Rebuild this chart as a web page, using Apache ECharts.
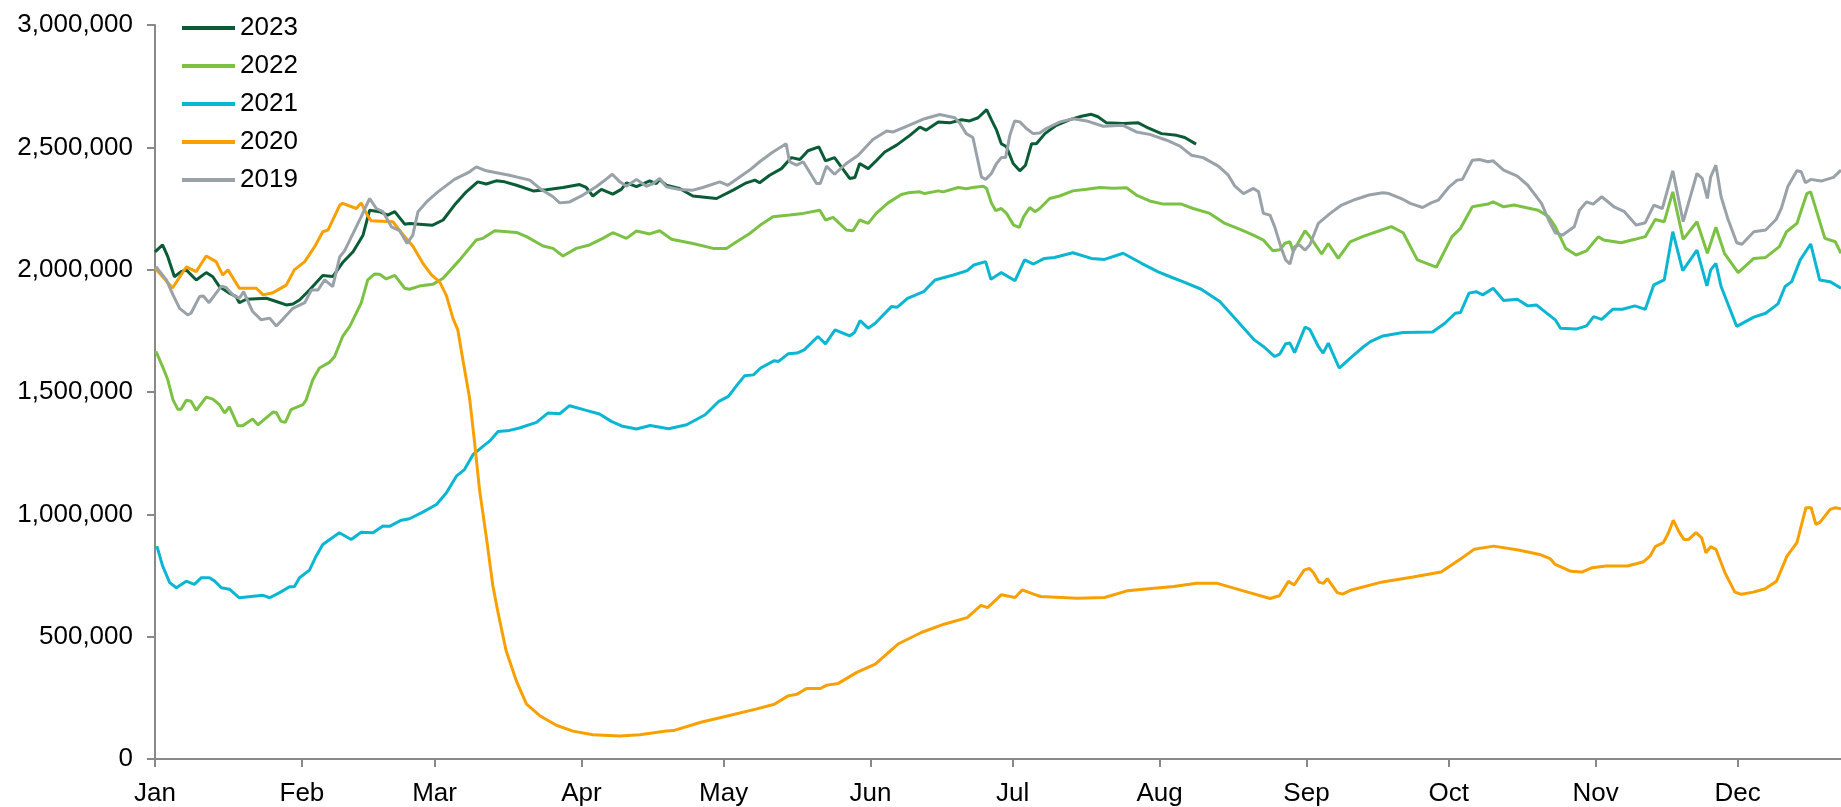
<!DOCTYPE html>
<html>
<head>
<meta charset="utf-8">
<title>Daily series 2019-2023</title>
<script src="https://cdn.jsdelivr.net/npm/echarts@6.0.0/dist/echarts.min.js"></script>
<style>
  html, body { margin: 0; padding: 0; background: #fff; }
  #chart { width: 1841px; height: 807px; }
</style>
</head>
<body>
<div id="chart"></div>
<script>
// x = day of year (0 = 1 Jan), y = value in thousands
const monthLabels = ['Jan', 'Feb', 'Mar', 'Apr', 'May', 'Jun', 'Jul', 'Aug', 'Sep', 'Oct', 'Nov', 'Dec']
const monthStarts = [0, 31, 59, 90, 120, 151, 181, 212, 243, 273, 304, 334]
const yTicks = [0, 500000, 1000000, 1500000, 2000000, 2500000, 3000000]

const s2023 = [[0,2073],[1.6,2101],[2.7,2053],[4.1,1971],[5.5,1992],[6.6,1999],[8.7,1958],[10.8,1988],[12.2,1971],[13.6,1931],[15.7,1904],[17.1,1890],[17.8,1865],[19.3,1879],[23.5,1883],[25.6,1870],[27.7,1856],[29.1,1860],[30.5,1876],[32.6,1917],[35.4,1976],[37.5,1972],[39.6,2029],[41.8,2073],[43.9,2141],[45.3,2243],[47.4,2237],[49.1,2223],[50.6,2237],[52.7,2186],[53.7,2189],[58.6,2182],[60.8,2203],[63.2,2264],[65.7,2318],[68.1,2359],[69.9,2350],[72,2363],[73.8,2359],[76.3,2345],[79.8,2322],[82.6,2327],[86.1,2336],[89.6,2348],[91,2336],[92.4,2301],[94.2,2328],[96.6,2309],[98.4,2328],[99.5,2355],[101.6,2339],[104.4,2363],[105.8,2352],[106.5,2368],[107.9,2345],[110.7,2332],[113.5,2301],[118.5,2291],[122,2325],[124.8,2355],[126.6,2366],[127.6,2355],[129.7,2386],[132.2,2413],[134.3,2458],[136.1,2450],[137.8,2486],[140.1,2502],[141.5,2445],[143.4,2458],[146.6,2373],[147.7,2377],[148.7,2434],[150.5,2413],[152.2,2445],[154,2481],[156.5,2509],[159.3,2549],[161.4,2583],[162.7,2570],[165.3,2604],[167.7,2600],[170.2,2613],[171.9,2608],[173.7,2621],[175.5,2654],[176.5,2613],[177.6,2570],[178.6,2515],[179.7,2502],[181.1,2434],[182.5,2404],[183.7,2427],[185,2515],[186,2515],[187.8,2556],[190.2,2590],[193.1,2613],[195.5,2627],[197.6,2635],[199,2625],[200.8,2600],[204.3,2597],[207.5,2600],[209.2,2583],[212.4,2556],[215.6,2549],[217.3,2540],[219.7,2513]]

const s2022 = [[0.2,1666],[1.6,1604],[2.7,1550],[3.8,1468],[4.8,1430],[5.5,1430],[6.6,1466],[7.6,1462],[8.7,1425],[10.8,1479],[12.2,1471],[13.6,1448],[14.7,1414],[15.7,1439],[17.5,1362],[18.5,1362],[20.6,1390],[21.7,1366],[24.9,1418],[25.6,1416],[26.6,1380],[27.5,1376],[28.7,1428],[31.2,1448],[31.9,1468],[33.3,1550],[34.7,1598],[36.8,1621],[37.9,1645],[39.6,1727],[41.1,1768],[43.5,1863],[44.9,1958],[46.3,1982],[47.4,1981],[48.8,1962],[50.6,1977],[52.7,1924],[53.7,1920],[55.8,1933],[58.6,1940],[60.8,1965],[64.3,2040],[67.8,2121],[69.2,2128],[71.7,2159],[76.3,2152],[78.4,2135],[81.9,2097],[84,2087],[86.1,2056],[88.9,2087],[91.7,2101],[94.5,2128],[96.6,2151],[99.5,2128],[101.6,2158],[104.4,2146],[106.5,2159],[109,2124],[113.5,2107],[117.8,2087],[120.6,2087],[122,2105],[125.5,2148],[128,2186],[130.4,2216],[133.9,2223],[136.8,2230],[140.3,2243],[141.5,2203],[143.1,2214],[145.9,2162],[147.3,2159],[148.7,2203],[150.5,2189],[152.2,2230],[154.7,2273],[157.5,2307],[158.9,2314],[161.4,2318],[162.4,2311],[165.3,2322],[166.3,2318],[169.5,2336],[171.2,2331],[172.6,2336],[174.8,2341],[175.5,2332],[176.5,2273],[177.4,2241],[178.6,2250],[179.7,2230],[181.2,2182],[182.4,2173],[183.3,2216],[184.6,2254],[185.7,2237],[186.7,2250],[188.8,2291],[190.9,2301],[193.7,2322],[196.6,2329],[199.4,2336],[202.2,2333],[205,2335],[207.1,2305],[209.9,2281],[212.8,2268],[216.6,2268],[219.1,2250],[222.6,2230],[225.8,2189],[229,2165],[231.8,2141],[233.9,2121],[235.9,2077],[237.4,2081],[238.4,2107],[239.5,2114],[240.2,2074],[242.7,2159],[243.7,2135],[246.2,2064],[247.6,2107],[249.7,2046],[252.2,2114],[255.1,2137],[258.4,2159],[260.9,2176],[263.4,2151],[266.4,2040],[270.4,2010],[273.7,2135],[275.5,2169],[278,2257],[281.3,2268],[282.4,2277],[284.6,2257],[286.8,2264],[291.9,2243],[294.1,2216],[295.5,2176],[297.7,2087],[299.9,2060],[302.1,2077],[304.6,2135],[305.7,2121],[309.4,2110],[312.3,2124],[314.5,2135],[316.6,2205],[318.5,2196],[320.3,2318],[322.5,2124],[325.4,2196],[327.6,2067],[329.4,2173],[331.2,2067],[334.1,1988],[337.4,2046],[339.9,2050],[342.8,2094],[344.3,2155],[346.5,2189],[348.6,2311],[349.4,2318],[352.4,2128],[354.6,2114],[355.8,2067]]

const s2021 = [[0.4,870],[1.6,789],[3.1,721],[4.5,700],[6.6,727],[8.3,714],[9.8,741],[11.5,741],[12.6,727],[14,700],[15.7,694],[17.8,659],[22.8,669],[24.2,659],[26.3,680],[28.4,704],[29.4,704],[30.5,741],[32.6,772],[34,829],[35.4,877],[38.9,925],[41.4,897],[43.5,927],[46,925],[48.1,952],[49.5,951],[52,976],[53.7,982],[56.5,1009],[59.4,1040],[61.5,1088],[63.6,1156],[65.3,1183],[67.1,1244],[69.2,1278],[70.6,1299],[72.4,1339],[74.8,1343],[76.9,1353],[80.5,1376],[82.9,1414],[85.4,1411],[87.5,1444],[91,1425],[93.8,1410],[96.3,1380],[98.7,1360],[101.6,1349],[104.5,1363],[108.4,1350],[112.2,1366],[116.1,1407],[119,1462],[121,1482],[122.9,1530],[124.4,1566],[126.3,1570],[127.8,1598],[130.7,1628],[131.6,1625],[133.6,1656],[135.5,1659],[137,1672],[139.9,1727],[141.5,1697],[143.5,1754],[146.6,1729],[147.6,1743],[148.8,1792],[150.5,1761],[152,1781],[155.4,1849],[156.6,1846],[158.8,1883],[162.2,1910],[164.6,1958],[168.5,1978],[171.4,1996],[172.8,2019],[175.3,2033],[176.4,1961],[178.6,1988],[181.5,1955],[183.5,2040],[185.4,2023],[187.7,2046],[189.8,2050],[193.7,2069],[197.6,2046],[200.4,2042],[204.3,2067],[208.2,2026],[211.6,1992],[214.5,1969],[216.9,1951],[220.8,1920],[224.7,1870],[227.6,1808],[232,1713],[233.9,1686],[236.3,1645],[237.4,1656],[238.6,1697],[239.5,1700],[240.5,1661],[242.7,1765],[243.7,1756],[245.5,1686],[246.5,1659],[247.6,1700],[249.9,1598],[252.6,1645],[255.1,1686],[256.5,1706],[259.1,1729],[263.4,1743],[269.6,1745],[272.2,1781],[274.4,1822],[275.5,1825],[277.3,1904],[278.8,1910],[280.2,1897],[282.4,1924],[284.6,1874],[287.5,1879],[289.7,1852],[291.5,1856],[295.5,1795],[296.6,1761],[299.9,1757],[302.1,1770],[303.6,1808],[305.3,1797],[307.6,1838],[309.7,1838],[312.3,1852],[314.5,1838],[316.3,1938],[318.5,1958],[320.3,2155],[322.4,1996],[325.4,2080],[327.5,1934],[328.3,1999],[329.4,2026],[330.5,1931],[333.8,1768],[337.4,1806],[339.9,1822],[342.5,1860],[344,1931],[345.4,1951],[347.2,2040],[349.4,2105],[351.3,1958],[353.5,1951],[355.8,1924]]

const s2020 = [[0,2007],[3.7,1925],[6.6,2011],[8.7,1992],[10.8,2056],[12.9,2033],[14.3,1978],[15.4,1999],[17.8,1924],[21.4,1924],[22.8,1897],[24.9,1906],[27.7,1937],[29.4,1999],[31.6,2033],[33.7,2094],[35.4,2155],[36.5,2162],[39,2264],[39.6,2271],[42.5,2250],[43.5,2273],[44.6,2230],[45.6,2200],[50.2,2196],[52.3,2144],[54.4,2097],[56.5,2027],[58.3,1980],[60.1,1949],[61.5,1894],[62.9,1800],[63.9,1754],[65,1629],[66.4,1473],[67.4,1301],[68.5,1098],[69.9,910],[71.3,708],[72.4,598],[74.1,442],[76.3,317],[78.4,224],[81.2,177],[84.7,138],[88.2,114],[92.4,99],[98.1,94],[102.3,99],[107.9,114],[109.4,116],[115.2,150],[121,177],[126.8,204],[130.7,224],[133.6,258],[135.5,265],[137.5,288],[140.4,288],[141.8,302],[144.2,309],[148.1,354],[152,388],[156.8,470],[161.7,517],[166.5,551],[171.4,578],[174.3,628],[175.7,619],[178.6,671],[181.5,660],[183,691],[185.4,674],[186.9,664],[194.6,657],[200.4,660],[205.3,688],[210.2,697],[215,705],[219.8,718],[224.2,718],[229.5,688],[235.3,656],[237.3,667],[239.2,726],[240.4,711],[242.5,772],[243.6,779],[244.5,761],[245.6,723],[246.6,718],[247.4,737],[249.5,680],[250.6,674],[252.5,691],[258.4,721],[265.5,744],[271.4,764],[275.9,823],[278.4,857],[282.5,870],[287.7,854],[292.2,836],[294.4,819],[295.5,795],[298.8,767],[301.1,764],[303.3,782],[306.2,789],[310.7,789],[314,805],[315.5,829],[316.6,868],[318.3,884],[319.4,925],[320.4,976],[321.7,925],[322.7,897],[323.6,897],[325.2,925],[326.4,904],[327.3,843],[328.3,868],[329.4,857],[331.3,762],[333.4,682],[334.8,673],[337.3,682],[339.8,696],[342.2,727],[344.4,829],[346.5,884],[348.4,1027],[349.5,1027],[350.5,959],[351.4,968],[353.5,1020],[354.6,1027],[355.8,1023]]

const s2019 = [[0.2,2012],[2.4,1958],[3.8,1897],[5.2,1842],[6.9,1815],[7.6,1822],[9.4,1890],[10.2,1892],[11.4,1865],[14,1933],[15,1927],[16.4,1897],[17.8,1883],[18.7,1910],[20.6,1829],[22.4,1795],[24.2,1802],[25.6,1770],[27,1798],[29.1,1842],[31.6,1865],[33,1917],[34.4,1917],[35.8,1958],[37.5,1931],[39,2053],[40,2077],[41.8,2148],[43.5,2216],[45.3,2291],[46.7,2250],[48.1,2237],[49.9,2175],[51.6,2160],[53.2,2107],[54.4,2141],[55.5,2237],[57.3,2277],[59.7,2318],[63.2,2369],[66.4,2400],[67.8,2420],[69.9,2404],[74.8,2386],[79.1,2366],[81.2,2332],[84,2298],[85.4,2273],[87.5,2277],[90.3,2305],[93.1,2339],[94.5,2359],[96.5,2390],[98.1,2359],[99.5,2341],[101.6,2369],[103.7,2341],[105.1,2352],[106.5,2373],[107.9,2339],[110.7,2328],[113.5,2325],[115.6,2336],[119.2,2359],[120.9,2345],[125.5,2407],[127.6,2441],[130.4,2481],[133.2,2515],[133.9,2441],[135.4,2427],[136.8,2441],[139.6,2352],[140.4,2352],[141.7,2423],[143.4,2390],[145.9,2434],[148.4,2468],[151.5,2532],[154.4,2567],[155.8,2563],[158.6,2586],[162.4,2617],[165.6,2634],[168.8,2621],[169.9,2597],[171.2,2556],[172.6,2540],[174.4,2379],[175.3,2369],[176.5,2393],[177.6,2434],[178.6,2458],[179.5,2458],[180.4,2549],[181.4,2608],[182.5,2604],[183.9,2577],[185.3,2556],[186.7,2559],[188.1,2577],[191,2604],[193.8,2617],[196.6,2608],[200.1,2586],[204.3,2590],[207.1,2563],[209.9,2553],[213.5,2529],[216.3,2505],[218.7,2468],[221.2,2458],[224.4,2423],[226.5,2386],[227.9,2341],[229.7,2311],[231.8,2332],[232.9,2318],[233.9,2230],[235.3,2223],[236.3,2175],[237.7,2087],[238.6,2040],[239.5,2023],[240.5,2094],[241.5,2101],[242.7,2080],[243.7,2101],[245.5,2189],[248,2230],[250.4,2264],[253.3,2287],[256.2,2305],[259.1,2314],[260.4,2311],[263.4,2287],[264.9,2271],[267.5,2254],[269.3,2273],[270.8,2284],[273,2336],[274.8,2366],[275.9,2369],[278,2447],[279.5,2450],[281.3,2441],[282.4,2445],[284.6,2407],[287.5,2382],[289.7,2345],[292.6,2271],[294.1,2203],[295.5,2151],[297,2141],[299.5,2175],[300.6,2243],[302.1,2277],[303.5,2268],[305.3,2298],[307.9,2257],[310.1,2237],[312.6,2182],[314.5,2192],[316.3,2264],[318.1,2250],[320.3,2404],[322.5,2196],[325.4,2393],[326.5,2373],[327.6,2291],[328.3,2379],[329.4,2427],[330.5,2298],[331.9,2209],[333.8,2110],[334.9,2104],[337.4,2155],[339.9,2162],[342.1,2205],[343.2,2250],[344.6,2341],[346.5,2404],[347.4,2400],[348.3,2355],[349.4,2369],[351.6,2362],[354.2,2377],[355.8,2407]]

const seriesNames = ['2023', '2022', '2021', '2020', '2019']
const seriesData = [s2023, s2022, s2021, s2020, s2019]
const colors = ['#0a5c36', '#7bc143', '#0bb6d2', '#f7a000', '#98a2a8']

const font = '"Liberation Sans", Arial, sans-serif'
const axisGrey = '#898989'

const chart = echarts.init(document.getElementById('chart'))
chart.setOption({
  animation: false,
  backgroundColor: '#fff',
  color: colors,
  grid: { left: 155, right: 0, top: 25, bottom: 47 },
  legend: {
    data: seriesNames,
    orient: 'vertical',
    left: 182,
    top: 15,
    padding: 0,
    icon: 'rect',
    itemWidth: 53,
    itemHeight: 4,
    itemGap: 12,
    textStyle: { fontSize: 26, lineHeight: 26, color: '#000', fontFamily: font }
  },
  xAxis: {
    type: 'value',
    min: 0,
    max: 355.8,
    axisLine: { show: true, lineStyle: { color: axisGrey, width: 2 } },
    axisTick: { show: true, length: 8, customValues: monthStarts, lineStyle: { color: axisGrey, width: 2 } },
    axisLabel: {
      customValues: monthStarts,
      margin: 22,
      fontSize: 26,
      color: '#000',
      fontFamily: font,
      formatter: v => monthLabels[monthStarts.indexOf(Math.round(v))]
    },
    splitLine: { show: false }
  },
  yAxis: {
    type: 'value',
    min: 0,
    max: 3000000,
    interval: 500000,
    axisLine: { show: true, lineStyle: { color: axisGrey, width: 2 } },
    axisTick: { show: true, length: 8, lineStyle: { color: axisGrey, width: 2 } },
    axisLabel: {
      margin: 22,
      fontSize: 26,
      color: '#000',
      fontFamily: font,
      formatter: v => yTicks.includes(v) ? v.toLocaleString('en-US') : ''
    },
    splitLine: { show: false }
  },
  series: seriesNames.map((name, i) => ({
    name: name,
    type: 'line',
    symbol: 'none',
    lineStyle: { width: 3, color: colors[i] },
    data: seriesData[i].map(p => [p[0], p[1] * 1000])
  }))
})
</script>
</body>
</html>
